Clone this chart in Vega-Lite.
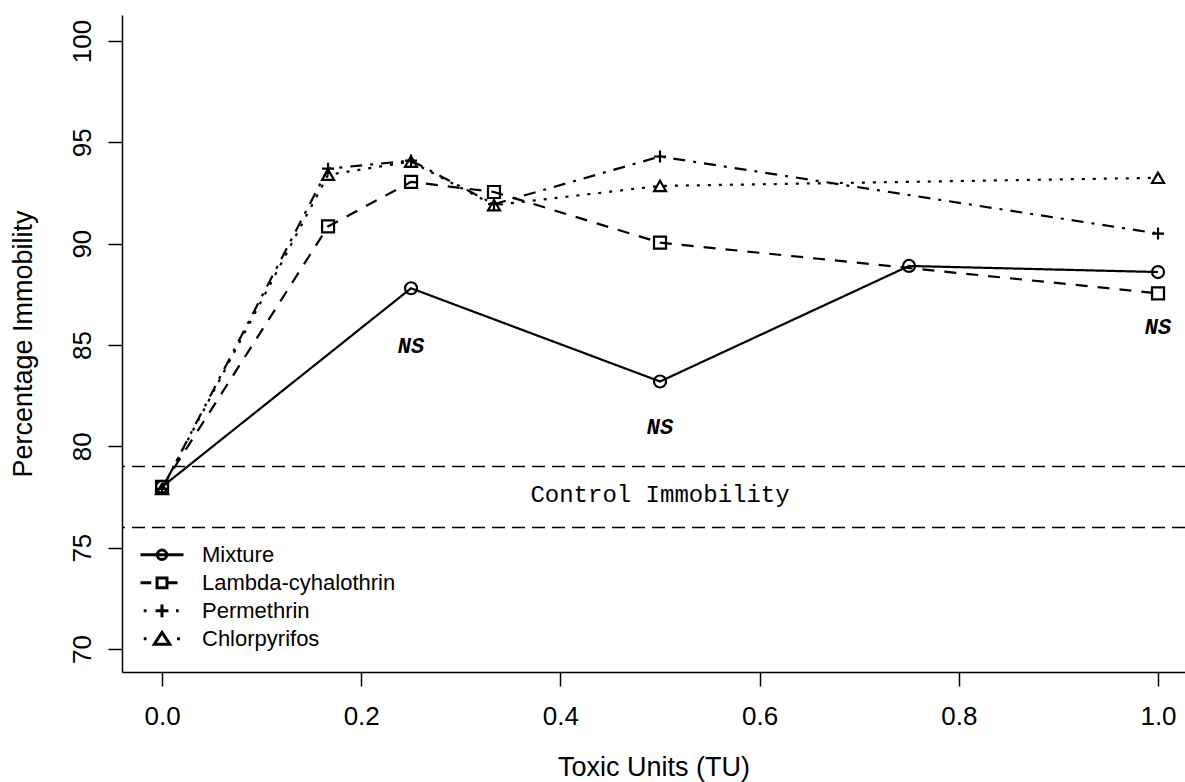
{
  "$schema": "https://vega.github.io/schema/vega-lite/v6.json",
  "width": 1063,
  "height": 657,
  "autosize": {"type": "none"},
  "padding": {"left": 122, "top": 15, "right": 0, "bottom": 110},
  "background": "white",
  "config": {
    "view": {"stroke": null},
    "font": "Liberation Sans",
    "axis": {
      "grid": false, "tickSize": 14, "tickWidth": 1.5, "tickColor": "black",
      "domainColor": "black", "domainWidth": 1.5,
      "labelFont": "Liberation Sans", "labelFontSize": 26, "labelColor": "black",
      "labelFlush": false, "labelOverlap": false,
      "titleFont": "Liberation Sans", "titleFontSize": 27, "titleFontWeight": "normal", "titleColor": "black"
    },
    "axisX": {"labelPadding": 17, "titlePadding": 25},
    "axisY": {"labelPadding": 18, "labelAngle": 270, "labelAlign": "center", "labelBaseline": "alphabetic", "titlePadding": 32}
  },
  "datasets": {
    "series": [
      {"tu": 0, "pct": 78.0, "group": "Mixture"},
      {"tu": 0.25, "pct": 87.8, "group": "Mixture"},
      {"tu": 0.5, "pct": 83.2, "group": "Mixture"},
      {"tu": 0.75, "pct": 88.9, "group": "Mixture"},
      {"tu": 1.0, "pct": 88.6, "group": "Mixture"},
      {"tu": 0, "pct": 78.0, "group": "Lambda-cyhalothrin"},
      {"tu": 0.1667, "pct": 90.85, "group": "Lambda-cyhalothrin"},
      {"tu": 0.25, "pct": 93.05, "group": "Lambda-cyhalothrin"},
      {"tu": 0.3333, "pct": 92.55, "group": "Lambda-cyhalothrin"},
      {"tu": 0.5, "pct": 90.05, "group": "Lambda-cyhalothrin"},
      {"tu": 1.0, "pct": 87.55, "group": "Lambda-cyhalothrin"},
      {"tu": 0, "pct": 77.9, "group": "Permethrin"},
      {"tu": 0.1667, "pct": 93.7, "group": "Permethrin"},
      {"tu": 0.25, "pct": 94.1, "group": "Permethrin"},
      {"tu": 0.3333, "pct": 91.95, "group": "Permethrin"},
      {"tu": 0.5, "pct": 94.3, "group": "Permethrin"},
      {"tu": 1.0, "pct": 90.5, "group": "Permethrin"},
      {"tu": 0, "pct": 77.9, "group": "Chlorpyrifos"},
      {"tu": 0.1667, "pct": 93.4, "group": "Chlorpyrifos"},
      {"tu": 0.25, "pct": 94.05, "group": "Chlorpyrifos"},
      {"tu": 0.3333, "pct": 91.9, "group": "Chlorpyrifos"},
      {"tu": 0.5, "pct": 92.85, "group": "Chlorpyrifos"},
      {"tu": 1.0, "pct": 93.25, "group": "Chlorpyrifos"}
    ],
    "control": [
      {"pct": 79.0},
      {"pct": 76.0}
    ],
    "controlLabel": [
      {"tu": 0.5, "pct": 77.6, "label": "Control Immobility"}
    ],
    "ns": [
      {"tu": 0.25, "pct": 84.95, "label": "NS"},
      {"tu": 0.5, "pct": 80.95, "label": "NS"},
      {"tu": 1.0, "pct": 85.9, "label": "NS"}
    ]
  },
  "layer": [
    {
      "data": {"name": "series"},
      "mark": {"type": "line", "color": "black", "strokeWidth": 2.2},
      "encoding": {
        "x": {
          "field": "tu", "type": "quantitative", "title": "Toxic Units (TU)",
          "scale": {"domain": [-0.0402, 1.0271], "nice": false, "zero": false},
          "axis": {"values": [0, 0.2, 0.4, 0.6, 0.8, 1.0], "format": ".1f"}
        },
        "y": {
          "field": "pct", "type": "quantitative", "title": "Percentage Immobility",
          "scale": {"domain": [68.865, 101.283], "nice": false, "zero": false},
          "axis": {"values": [70, 75, 80, 85, 90, 95, 100]}
        },
        "detail": {"field": "group"},
        "strokeDash": {
          "field": "group", "type": "nominal",
          "scale": {
            "domain": ["Mixture", "Lambda-cyhalothrin", "Permethrin", "Chlorpyrifos"],
            "range": [[1, 0], [12, 10], [3, 8, 12, 8], [3, 8]]
          },
          "legend": null
        }
      }
    },
    {
      "data": {"name": "control"},
      "mark": {"type": "rule", "color": "black", "strokeWidth": 1.5, "strokeDash": [13, 7]},
      "encoding": {
        "y": {"field": "pct", "type": "quantitative", "title": "Percentage Immobility",
          "scale": {"domain": [68.865, 101.283], "nice": false, "zero": false},
          "axis": {"values": [70, 75, 80, 85, 90, 95, 100]}}
      }
    },
    {
      "data": {"name": "series"},
      "mark": {"type": "point", "filled": false, "color": "black", "strokeWidth": 2.2, "opacity": 1},
      "encoding": {
        "x": {"field": "tu", "type": "quantitative", "title": "Toxic Units (TU)",
          "scale": {"domain": [-0.0402, 1.0271], "nice": false, "zero": false},
          "axis": {"values": [0, 0.2, 0.4, 0.6, 0.8, 1.0], "format": ".1f"}},
        "y": {"field": "pct", "type": "quantitative", "title": "Percentage Immobility",
          "scale": {"domain": [68.865, 101.283], "nice": false, "zero": false},
          "axis": {"values": [70, 75, 80, 85, 90, 95, 100]}},
        "shape": {
          "field": "group", "type": "nominal",
          "scale": {
            "domain": ["Mixture", "Lambda-cyhalothrin", "Permethrin", "Chlorpyrifos"],
            "range": ["circle", "square", "M-1,0H1M0,-1V1", "triangle-up"]
          },
          "legend": null
        },
        "size": {
          "field": "group", "type": "nominal",
          "scale": {
            "domain": ["Mixture", "Lambda-cyhalothrin", "Permethrin", "Chlorpyrifos"],
            "range": [144, 144, 320, 225]
          },
          "legend": null
        }
      }
    },
    {
      "data": {"name": "series"},
      "mark": {"type": "point", "filled": false, "color": "black", "strokeWidth": 3, "opacity": 0},
      "encoding": {
        "x": {"field": "tu", "type": "quantitative", "title": "Toxic Units (TU)",
          "scale": {"domain": [-0.0402, 1.0271], "nice": false, "zero": false},
          "axis": {"values": [0, 0.2, 0.4, 0.6, 0.8, 1.0], "format": ".1f"}},
        "y": {"field": "pct", "type": "quantitative", "title": "Percentage Immobility",
          "scale": {"domain": [68.865, 101.283], "nice": false, "zero": false},
          "axis": {"values": [70, 75, 80, 85, 90, 95, 100]}},
        "shape": {
          "field": "group", "type": "nominal",
          "scale": {
            "domain": ["Mixture", "Lambda-cyhalothrin", "Permethrin", "Chlorpyrifos"],
            "range": [
              "M-1,0H1M0.22,0A0.22,0.22 0 1,1 -0.22,0A0.22,0.22 0 1,1 0.22,0",
              "M-1,0H-0.5M0.3,0H0.72M-0.23,-0.23H0.23V0.23H-0.23Z",
              "M-0.85,0H-0.72M0.65,0H0.78M-0.3,0H0.3M0,-0.3V0.3",
              "M-0.85,0H-0.72M0.7,0H0.83M0,-0.3L0.36,0.25H-0.36Z"
            ]
          },
          "legend": {
            "orient": "none", "legendX": 17, "legendY": 526, "title": null,
            "symbolSize": 1849, "symbolStrokeColor": "black", "symbolFillColor": "transparent",
            "symbolStrokeWidth": 3, "symbolOpacity": 1,
            "labelFont": "Liberation Sans", "labelFontSize": 22, "labelColor": "black", "labelLimit": 500,
            "labelOffset": 17, "clipHeight": 27.7, "rowPadding": 0, "padding": 0,
            "encode": {"symbols": {"update": {"opacity": {"value": 1}, "fill": {"value": "transparent"}, "stroke": {"value": "black"}, "strokeWidth": {"value": 3}}}}
          }
        }
      }
    },
    {
      "data": {"name": "controlLabel"},
      "mark": {"type": "text", "font": "Liberation Mono", "fontSize": 24, "color": "black", "align": "center", "baseline": "middle"},
      "encoding": {
        "x": {"field": "tu", "type": "quantitative", "title": "Toxic Units (TU)",
          "scale": {"domain": [-0.0402, 1.0271], "nice": false, "zero": false},
          "axis": {"values": [0, 0.2, 0.4, 0.6, 0.8, 1.0], "format": ".1f"}},
        "y": {"field": "pct", "type": "quantitative", "title": "Percentage Immobility",
          "scale": {"domain": [68.865, 101.283], "nice": false, "zero": false},
          "axis": {"values": [70, 75, 80, 85, 90, 95, 100]}},
        "text": {"field": "label"}
      }
    },
    {
      "data": {"name": "ns"},
      "mark": {"type": "text", "font": "Liberation Mono", "fontSize": 22, "fontStyle": "italic", "fontWeight": "bold", "color": "black", "align": "center", "baseline": "middle"},
      "encoding": {
        "x": {"field": "tu", "type": "quantitative", "title": "Toxic Units (TU)",
          "scale": {"domain": [-0.0402, 1.0271], "nice": false, "zero": false},
          "axis": {"values": [0, 0.2, 0.4, 0.6, 0.8, 1.0], "format": ".1f"}},
        "y": {"field": "pct", "type": "quantitative", "title": "Percentage Immobility",
          "scale": {"domain": [68.865, 101.283], "nice": false, "zero": false},
          "axis": {"values": [70, 75, 80, 85, 90, 95, 100]}},
        "text": {"field": "label"}
      }
    }
  ],
  "resolve": {"scale": {"shape": "independent"}}
}
